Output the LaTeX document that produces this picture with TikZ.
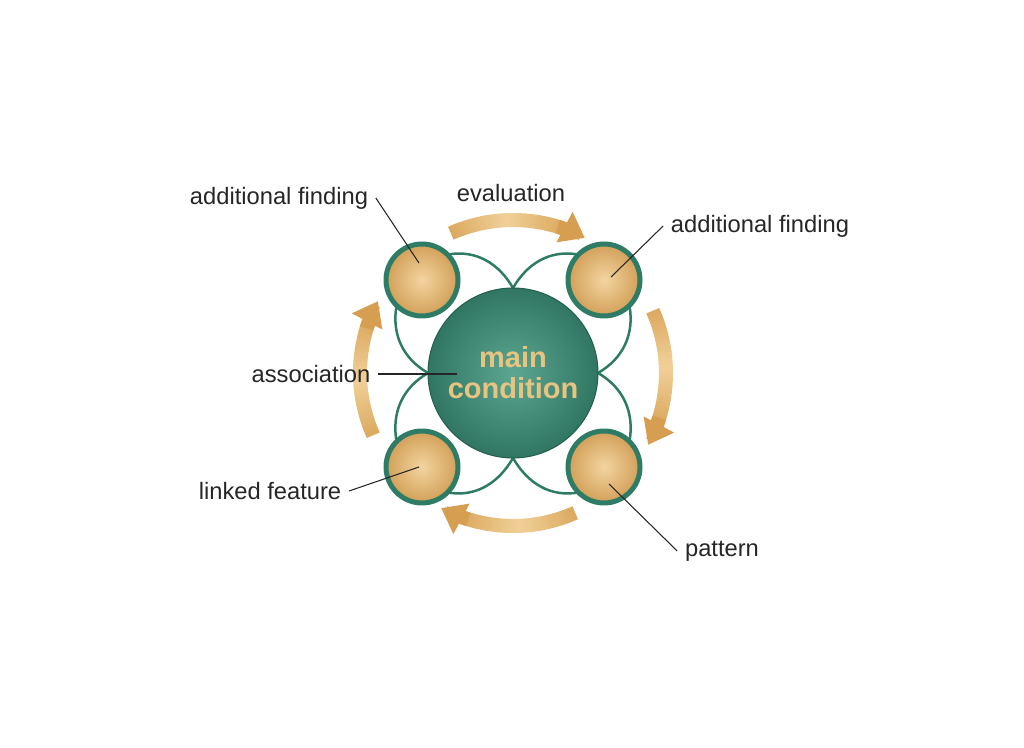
\documentclass[tikz,border=0pt]{standalone}
\usepackage{fontspec}
\setmainfont{Liberation Sans}
\usetikzlibrary{arrows.meta,calc,backgrounds}

\definecolor{ringgreen}{RGB}{46,124,102}
\definecolor{coregreen}{RGB}{92,166,146}
\definecolor{coredark}{RGB}{48,118,99}
\definecolor{coreline}{RGB}{36,96,80}
\definecolor{tanlight}{RGB}{243,212,160}
\definecolor{tandark}{RGB}{210,160,88}
\definecolor{flowlight}{RGB}{240,208,152}
\definecolor{flowdark}{RGB}{214,158,80}
\definecolor{coretext}{RGB}{232,196,128}

\begin{document}
\begin{tikzpicture}[x=0.02cm, y=0.02cm,
    ball/.style={circle, minimum size=1.44cm, inner sep=0pt, outer sep=0pt,
      draw=ringgreen, line width=0.1cm, shading=radial,
      inner color=tanlight, outer color=tandark},
    core/.style={circle, minimum size=3.4cm, inner sep=0pt, outer sep=0pt,
      draw=coreline, line width=0.6pt, shading=radial,
      inner color=coregreen, outer color=coredark,
      text=coretext, align=center,
      font=\bfseries\fontsize{16.5}{17.5}\selectfont},
    link/.style={draw=ringgreen, line width=0.05cm},
    band/.style={line width=0.28cm},
    flowhead/.style={draw=flowdark, line width=0.28cm,
      -{Triangle[length=0.46cm, width=0.66cm]}},
    lbl/.style={font=\fontsize{13.5}{16}\selectfont, text=black!85, inner sep=0.15cm},
    leader/.style={draw=black!85, line width=0.6pt}]
    \useasboundingbox (0,0) rectangle (1024,747);

    % ---- the core and the four findings round it
    \coordinate (c) at (513,374);
    \node[core] (main) at (c) {main\\condition};
    \node[ball] (tl) at (422,467) {};
    \node[ball] (tr) at (604,467) {};
    \node[ball] (bl) at (422,280) {};
    \node[ball] (br) at (604,280) {};

    % thin loops from each finding into the core (behind the circles)
    \begin{pgfonlayer}{background}
    \draw[link] (tl.45) to[out=10,in=120] (main.north);
    \draw[link] (tr.135) to[out=170,in=60] (main.north);
    \draw[link] (tl.225) to[out=260,in=150] (main.west);
    \draw[link] (bl.135) to[out=100,in=210] (main.west);
    \draw[link] (bl.315) to[out=350,in=240] (main.south);
    \draw[link] (br.225) to[out=190,in=300] (main.south);
    \draw[link] (tr.315) to[out=280,in=30] (main.east);
    \draw[link] (br.45) to[out=80,in=330] (main.east);
    \end{pgfonlayer}

    % ---- the cycle of arrows, lighter in the middle
    \foreach \c in {88,-2,-92,178}{
      \foreach \i in {0,...,31}{
        \pgfmathsetmacro\mixp{25+75*(1-abs(2*\i/31-1))}
        \draw[band, draw=flowlight!\mixp!flowdark]
          ($(c)+({\c+26-\i*1.35}:153)$)
          arc[start angle={\c+26-\i*1.35}, end angle={\c+26-(\i+1)*1.35-0.3}, radius=153];
      }
      \draw[flowhead] ($(c)+({\c-15}:153)$)
        arc[start angle={\c-15}, end angle={\c-26}, radius=153];
    }

    % ---- labels
    \node[lbl] (evl) at (511,554) {evaluation};
    \node[lbl] (lbltl) at (279,549) {additional finding};
    \node[lbl] (lbltr) at (760,521) {additional finding};
    \node[lbl] (lblas) at (311,373) {association};
    \node[lbl] (lblbl) at (270,256) {linked feature};
    \node[lbl] (lblbr) at (722,196) {pattern};

    \coordinate (pintl) at (419,484);
    \coordinate (pintr) at (611,470);
    \coordinate (pinas) at (457,373);
    \coordinate (pinbl) at (419,280);
    \coordinate (pinbr) at (609,263);
    \draw[leader] (lbltl.east) -- (pintl);
    \draw[leader] (lbltr.west) -- (pintr);
    \draw[leader] (lblas.east) -- (pinas);
    \draw[leader] (lblbl.east) -- (pinbl);
    \draw[leader] (lblbr.west) -- (pinbr);
\end{tikzpicture}
\end{document}
